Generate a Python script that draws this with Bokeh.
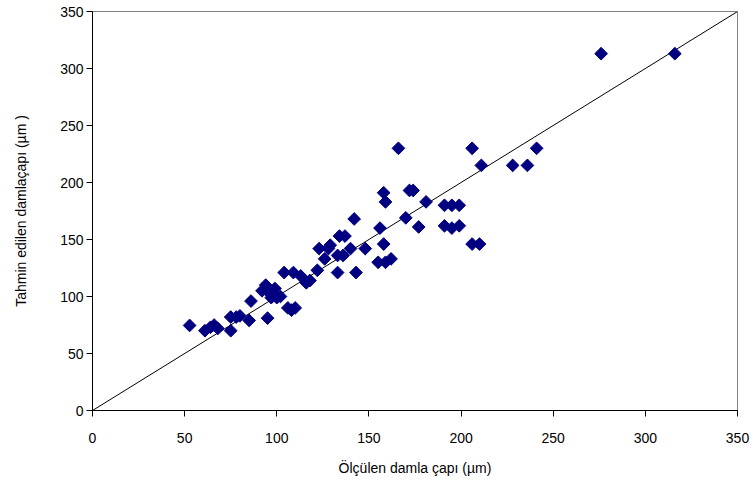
import numpy as np
from bokeh.plotting import figure
from bokeh.models import FixedTicker
from bokeh.embed import file_html
from bokeh.resources import INLINE

# Measured vs predicted droplet diameter (µm)
olculen = [52.7, 61, 64, 68, 66, 75, 78, 75, 80, 85, 86, 92, 94, 96, 99,
           97, 100, 95, 104, 109, 113, 106, 108, 110, 102, 116, 118, 122,
           123, 128, 126, 129, 133, 133, 134, 137, 136, 140, 143, 142, 148,
           156, 158, 155, 159, 162, 158, 159, 166, 170, 172, 174, 177, 181,
           191, 195, 199, 191, 195, 199, 206, 210, 206, 211, 228, 236, 241,
           276, 316]
tahmin = [74.6, 70, 73, 72, 75, 82, 82, 70, 83, 79, 96, 105, 110, 103, 107,
          99, 99, 81, 121, 121, 118, 90, 88, 90, 100, 112, 114, 123,
          142, 142, 133, 145, 136, 121, 153, 153, 136, 142, 121, 168, 142,
          160, 146, 130, 130, 133, 191, 183, 230, 169, 193, 193, 161, 183,
          180, 180, 180, 162, 160, 162, 146, 146, 230, 215, 215, 215, 230,
          313, 313]
line_x = [0, 350]
line_y = [0, 350]
ticks = [0, 50, 100, 150, 200, 250, 300, 350]

p = figure(width=756, height=499, x_range=(0, 350), y_range=(0, 350),
           output_backend="svg", toolbar_location=None,
           min_border_left=92, min_border_right=19,
           min_border_top=11, min_border_bottom=89)

p.line(line_x, line_y, line_color="black", line_width=1)
p.scatter(olculen, tahmin, marker="square", angle=np.pi / 4, size=9,
          fill_color="#000080", line_color="#000080")

p.xgrid.visible = False
p.ygrid.visible = False
p.outline_line_color = "#808080"
p.background_fill_color = "white"

for ax in (p.xaxis, p.yaxis):
    ax.ticker = FixedTicker(ticks=ticks)
    ax.minor_tick_line_color = None
    ax.major_tick_in = 0
    ax.major_tick_out = 6
    ax.axis_line_color = "black"
    ax.major_tick_line_color = "black"
    ax.major_label_text_font = "Liberation Sans"
    ax.major_label_text_font_size = "14px"
    ax.major_label_text_color = "black"
    ax.axis_label_text_font = "Liberation Sans"
    ax.axis_label_text_font_size = "14px"
    ax.axis_label_text_font_style = "normal"
    ax.axis_label_text_color = "black"

p.xaxis.axis_label = "Ölçülen damla çapı (µm)"
p.yaxis.axis_label = "Tahmin edilen damlaçapı (µm )"
p.xaxis.major_label_standoff = 16
p.xaxis.axis_label_standoff = 14
p.yaxis.major_label_standoff = 3
p.yaxis.axis_label_standoff = 28

open("out.html", "w").write(file_html(p, INLINE))
